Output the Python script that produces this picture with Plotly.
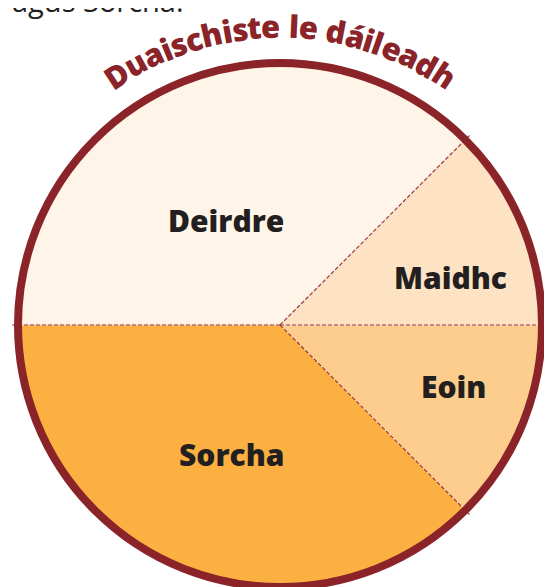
import math
import plotly.graph_objects as go

# ---- data ----
names = ["Deirdre", "Maidhc", "Eoin", "Sorcha"]
shares = [3, 1, 1, 3]
slice_colors = ["#FEF4E7", "#FDE3C3", "#FDCD8D", "#FBB041"]
title_text = "Duaischiste le dáileadh"
top_text = "agus Sorcha."

# ---- layout constants (screen pixels; page body has an 8px margin) ----
OFF = 8
W, H = 552 - OFF, 587 - OFF
CX, CY, R = 280 - OFF, 325 - OFF, 262
DARK_RED = "#8B2428"
INK = "#231F20"
FONT = "Open Sans"

def px_to_paper(x, y):
    return x / W, 1 - y / H

fig = go.Figure()
fig.add_trace(go.Pie(
    labels=names, values=shares, sort=False, direction="clockwise",
    rotation=-90, textinfo="none", hoverinfo="skip", showlegend=False,
    marker=dict(colors=slice_colors, line=dict(color="#F5DED6", width=1)),
    domain=dict(x=[(CX - R) / W, (CX + R) / W], y=[(H - CY - R) / H, (H - CY + R) / H]),
))

shapes = []
# slice boundary lines derived from the data
total = sum(shares)
ang = 180.0
bounds = [ang]
for v in shares[:-1]:
    ang -= 360.0 * v / total
    bounds.append(ang)
for b in bounds:
    a = math.radians(b)
    x0, y0 = px_to_paper(CX, CY)
    x1, y1 = px_to_paper(CX + (R + 6) * math.cos(a), CY - (R + 6) * math.sin(a))
    shapes.append(dict(type="line", xref="paper", yref="paper", x0=x0, y0=y0, x1=x1, y1=y1,
                       line=dict(color="#9A3A3F", width=1.2, dash="4px,2px"), layer="above"))
# outer rim
bx0, by0 = px_to_paper(CX - R, CY + R)
bx1, by1 = px_to_paper(CX + R, CY - R)
shapes.append(dict(type="circle", xref="paper", yref="paper", x0=bx0, y0=by0, x1=bx1, y1=by1,
                   line=dict(color=DARK_RED, width=8), fillcolor="rgba(0,0,0,0)", layer="above"))

annotations = []
# slice labels: offsets as fractions of radius (x right, y up)
label_fx = [-0.206, 0.649, 0.664, -0.187]
label_fy = [0.40, 0.183, -0.233, -0.496]
for n, fx, fy in zip(names, label_fx, label_fy):
    x, y = px_to_paper(CX + fx * R, CY - fy * R)
    annotations.append(dict(x=x, y=y, xref="paper", yref="paper", text=n, showarrow=False,
                            xanchor="center", yanchor="middle",
                            font=dict(family=FONT, size=30, color=INK, weight=800)))

# curved title: one character per annotation along an arc
cw = {" ": 0.26, "D": 0.737, "a": 0.604, "á": 0.604, "c": 0.514, "d": 0.652, "e": 0.608,
      "h": 0.67, "i": 0.307, "l": 0.307, "s": 0.512, "t": 0.432, "u": 0.67}
TS = 31
RT = 299
SPACING = 0.3
widths = [cw.get(c, 0.6) * TS + SPACING for c in title_text]
arc_total = sum(widths)
s = -arc_total / 2
for c, w in zip(title_text, widths):
    mid = s + w / 2
    s += w
    if c == " ":
        continue
    th = mid / RT
    x, y = px_to_paper(CX + RT * math.sin(th), CY - RT * math.cos(th))
    annotations.append(dict(x=x, y=y, xref="paper", yref="paper", text=c, showarrow=False,
                            xanchor="center", yanchor="middle", textangle=math.degrees(th),
                            font=dict(family=FONT, size=TS, color=DARK_RED, weight=800)))

# clipped text line at the very top (only its lower part shows in the window)
tx, ty = px_to_paper(186 - OFF, 0 - OFF)
annotations.append(dict(x=tx, y=ty, xref="paper", yref="paper", text=top_text, showarrow=False,
                        xanchor="right", yanchor="middle",
                        font=dict(family=FONT, size=29, color=INK)))

fig.update_layout(width=W, height=H, margin=dict(l=0, r=0, t=0, b=0),
                  paper_bgcolor="white", plot_bgcolor="white",
                  shapes=shapes, annotations=annotations)
fig.write_html("out.html")
